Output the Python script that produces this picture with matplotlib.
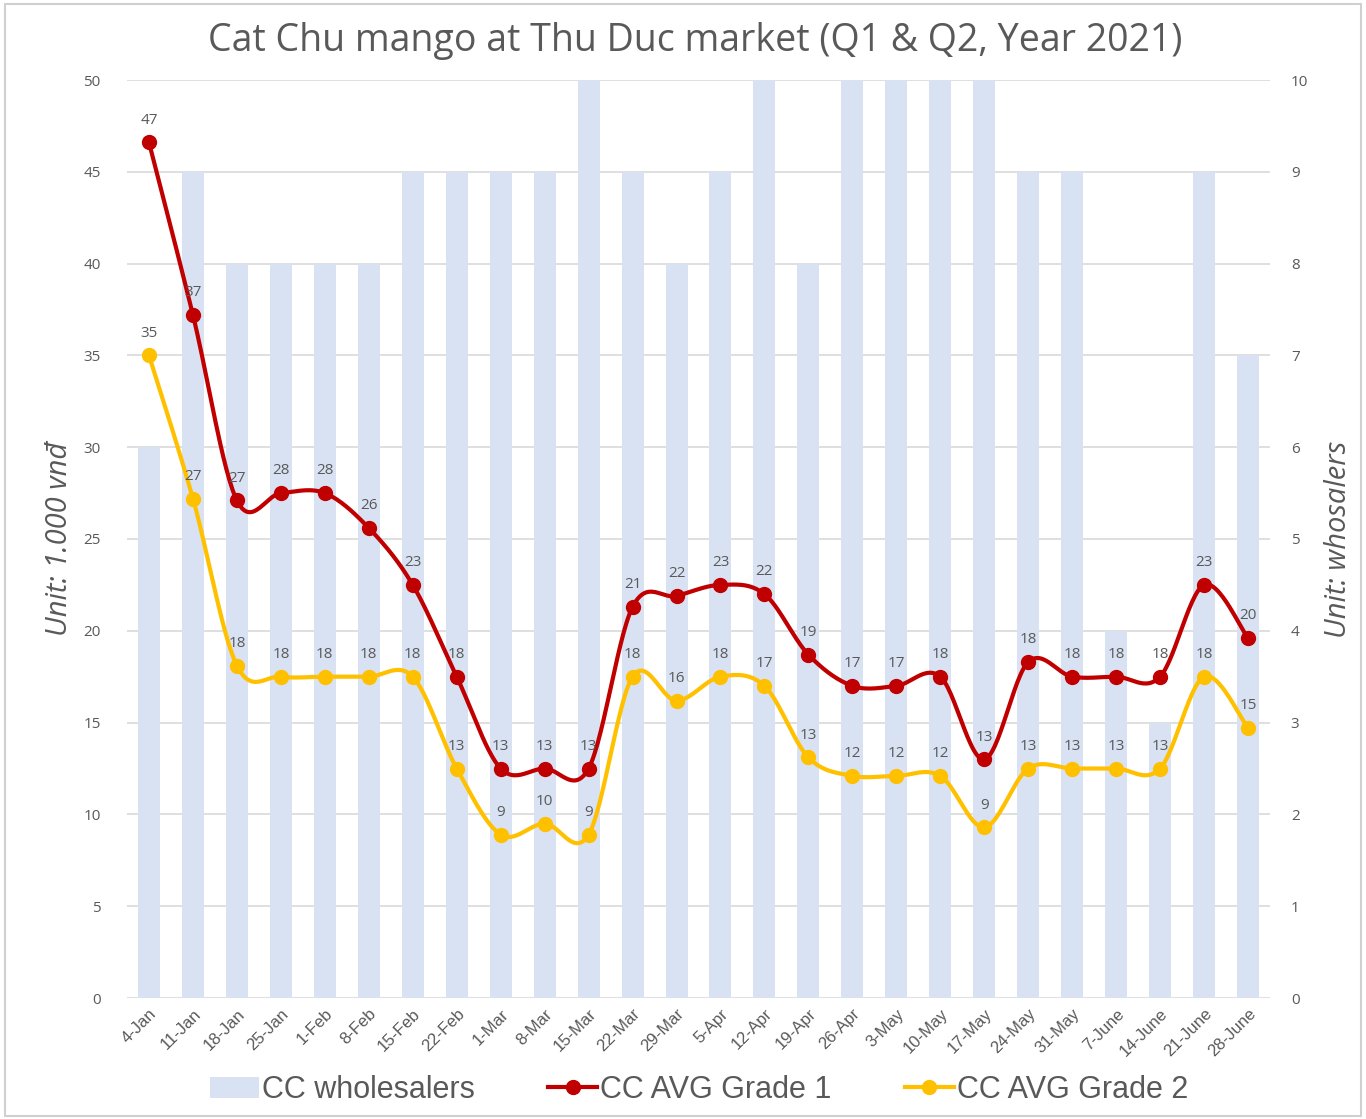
import numpy as np
import matplotlib
matplotlib.use("Agg")
import matplotlib.pyplot as plt
from matplotlib.lines import Line2D
from matplotlib.patches import Patch, Rectangle

categories = ["4-Jan", "11-Jan", "18-Jan", "25-Jan", "1-Feb", "8-Feb", "15-Feb", "22-Feb",
              "1-Mar", "8-Mar", "15-Mar", "22-Mar", "29-Mar", "5-Apr", "12-Apr", "19-Apr",
              "26-Apr", "3-May", "10-May", "17-May", "24-May", "31-May", "7-June", "14-June",
              "21-June", "28-June"]
wholesalers = [6, 9, 8, 8, 8, 8, 9, 9, 9, 9, 10, 9, 8, 9, 10, 8, 10, 10, 10, 10, 9, 9, 4, 3, 9, 7]
grade1 = [46.6, 37.2, 27.1, 27.5, 27.5, 25.6, 22.5, 17.5, 12.5, 12.5, 12.5, 21.3, 21.9, 22.5,
          22.0, 18.7, 17.0, 17.0, 17.5, 13.0, 18.3, 17.5, 17.5, 17.5, 22.5, 19.6]
grade2 = [35.0, 27.2, 18.1, 17.5, 17.5, 17.5, 17.5, 12.5, 8.9, 9.5, 8.9, 17.5, 16.2, 17.5,
          17.0, 13.1, 12.1, 12.1, 12.1, 9.3, 12.5, 12.5, 12.5, 12.5, 17.5, 14.7]

TXT = "#595959"
BAR = "#D9E2F3"
C1 = "#C00000"
C2 = "#FFC000"
GRID = "#D9D9D9"


def smooth(xs, ys, n=30):
    xs = np.asarray(xs, float)
    ys = np.asarray(ys, float)
    px = np.concatenate([[xs[0]], xs, [xs[-1]]])
    py = np.concatenate([[ys[0]], ys, [ys[-1]]])
    ox, oy = [], []
    t = np.linspace(0, 1, n)
    for i in range(1, len(px) - 2):
        p0, p1, p2, p3 = (np.array([px[j], py[j]]) for j in (i - 1, i, i + 1, i + 2))
        c1 = p1 + (p2 - p0) / 6
        c2 = p2 - (p3 - p1) / 6
        b = ((1 - t) ** 3)[:, None] * p1 + (3 * (1 - t) ** 2 * t)[:, None] * c1 \
            + (3 * (1 - t) * t ** 2)[:, None] * c2 + (t ** 3)[:, None] * p2
        ox.extend(b[:, 0])
        oy.extend(b[:, 1])
    return np.array(ox), np.array(oy)


def r(v):
    return str(int(np.floor(v + 0.5)))


fig = plt.figure(figsize=(13.66, 11.19), dpi=100)
fig.patches.append(Rectangle((0.004, 0.003), 0.992, 0.993, transform=fig.transFigure,
                             fill=False, edgecolor="#D0D0D0", linewidth=1.5))

pos = [127 / 1366, 1 - 998 / 1119, (1270 - 127) / 1366, (998 - 80) / 1119]
axb = fig.add_axes(pos)
axl = axb.twinx()
axl.set_position(pos)
x = np.arange(len(categories))

axb.bar(x, wholesalers, width=0.5, color=BAR, zorder=2)
axb.set_ylim(0, 10)
axb.set_yticks(range(0, 11))
axb.yaxis.tick_right()
axb.yaxis.set_label_position("right")
axb.grid(axis="y", color=GRID, linewidth=1.2, zorder=0)
axb.set_axisbelow(True)
axb.set_xlim(-0.5, len(categories) - 0.5)

axl.yaxis.tick_left()
axl.yaxis.set_label_position("left")
axl.set_ylim(0, 50)
axl.set_yticks(range(0, 51, 5))
axl.set_xlim(-0.5, len(categories) - 0.5)

for a in (axb, axl):
    for s in a.spines.values():
        s.set_visible(False)
    a.tick_params(axis="y", length=0, labelsize=11, colors=TXT)
    a.tick_params(axis="x", length=0)
axb.tick_params(axis="y", pad=15)
axl.tick_params(axis="y", pad=19)
for lab in axb.get_yticklabels() + axl.get_yticklabels():
    lab.set_fontfamily("Open Sans")

axb.set_xticks(x)
axb.set_xticklabels(categories, rotation=45, ha="right", rotation_mode="anchor",
                    fontsize=12, color=TXT, fontfamily="Liberation Sans")
axb.tick_params(axis="x", pad=6)

for ys, col in ((grade2, C2), (grade1, C1)):
    sx, sy = smooth(x, ys)
    axl.plot(sx, sy, color=col, linewidth=3, zorder=3, solid_capstyle="round")
    axl.plot(x, ys, linestyle="none", marker="o", markersize=10, color=col, zorder=4)
    for xi, yi in zip(x, ys):
        axl.annotate(r(yi), (xi, yi), xytext=(0, 16), textcoords="offset points",
                     ha="center", va="center", fontsize=11, color=TXT,
                     fontfamily="Open Sans", zorder=5)

axl.set_ylabel("Unit: 1.000 vnđ", fontsize=21, style="italic", color=TXT,
               fontfamily="Open Sans")
axl.yaxis.set_label_coords((60 - 127) / 1143, 0.5)
axb.set_ylabel("Unit: whosalers", fontsize=21, style="italic", color=TXT,
               fontfamily="Open Sans", rotation=90)
axb.yaxis.set_label_coords((1338 - 127) / 1143, 0.5)
axb.yaxis.label.set_verticalalignment("center")
axl.yaxis.label.set_verticalalignment("center")

fig.text(695 / 1366, 1 - 41 / 1119, "Cat Chu mango at Thu Duc market (Q1 & Q2, Year 2021)",
         ha="center", va="center", fontsize=27, color=TXT, fontfamily="Open Sans")

handles = [Patch(facecolor=BAR, edgecolor="none"),
           Line2D([], [], color=C1, linewidth=3, marker="o", markersize=10),
           Line2D([], [], color=C2, linewidth=3, marker="o", markersize=10)]
leg = fig.legend(handles, ["CC wholesalers", "CC AVG Grade 1", "CC AVG Grade 2"],
                 loc="center", bbox_to_anchor=(699 / 1366, 1 - 1090 / 1119), ncol=3,
                 frameon=False, prop={"family": "Liberation Sans", "size": 22},
                 handlelength=1.6, handletextpad=0.1, columnspacing=2.4)
for t in leg.get_texts():
    t.set_color(TXT)

fig.savefig("out.png", dpi=100)
